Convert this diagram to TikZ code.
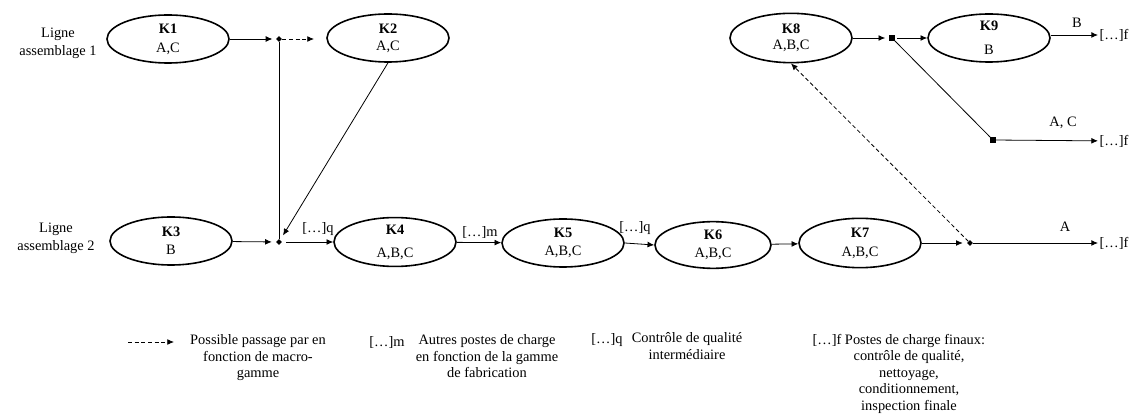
\documentclass[tikz,border=0pt]{standalone}
\usepackage{fontspec}
\setmainfont{Liberation Serif}
\usetikzlibrary{shapes.geometric,arrows.meta}
\begin{document}
\begin{tikzpicture}[x=0.75pt,y=-0.75pt,
  font=\fontsize{10.8}{12.4}\selectfont,
  kbox/.style={draw,ellipse,line width=1.2pt,minimum width=91.5pt,minimum height=36pt,inner sep=0pt,align=center},
  conn/.style={line width=0.6pt,-{Latex[length=5pt,width=4.4pt]}},
  plain/.style={line width=0.6pt},
  dashline/.style={dash pattern=on 3pt off 2pt},
  dot/.style={diamond,fill,inner sep=0pt,minimum size=4.5pt},
  sq/.style={rectangle,fill,inner sep=0pt,minimum size=3.8pt},
  lbl/.style={inner sep=1pt}]
\useasboundingbox (0,0) rectangle (1135,416);

% line labels
\node[lbl,align=center] (L1) at (58,43) {Ligne\\[1pt]assemblage 1};
\node[lbl,align=center] (L2) at (56,238) {Ligne\\[1pt]assemblage 2};

% workstations
\node[kbox] (K1) at (168,39) {\textbf{K1}\\[1.75pt]A,C};
\node[kbox] (K2) at (388,38) {\textbf{K2}\\[0.25pt]A,C};
\node[kbox] (K3) at (171,241) {\textbf{K3}\\[1pt]B};
\node[kbox] (K4) at (395,242) {\textbf{K4}\\[4.75pt]A,B,C};
\node[kbox] (K5) at (563,243) {\textbf{K5}\\[1pt]A,B,C};
\node[kbox,minimum width=87pt,minimum height=35pt] (K6) at (713,245) {\textbf{K6}\\[1pt]A,B,C};
\node[kbox,minimum height=37pt] (K7) at (860,243) {\textbf{K7}\\[1.75pt]A,B,C};
\node[kbox,minimum height=37pt] (K8) at (791,38) {\textbf{K8}\\[-0.5pt]A,B,C};
\node[kbox] (K9) at (989,38) {\textbf{K9}\\[5.5pt]B};

% junctions
\node[dot] (j1) at (279,39) {};
\node[dot] (j2) at (279,242) {};
\node[dot] (j3) at (970,243) {};
\node[sq] (j4) at (892,38) {};
\node[sq] (j5) at (993,140) {};
\coordinate (d1) at (314,39);

% end labels
\node[lbl] (f1) at (1114,243) {[…]f};
\node[lbl] (f2) at (1114,35) {[…]f};
\node[lbl] (f3) at (1114,141) {[…]f};

% connectors
\draw[conn,shorten >=2.5pt] (K1) -- (j1);
\draw[conn,dashline] (j1) -- (d1);
\draw[plain] (j1) -- (j2);
\draw[conn,shorten >=4pt] (K2.south) -- (j2);
\draw[conn,shorten >=3pt] (K3) -- (j2);
\draw[conn,shorten <=3pt] (j2) -- (K4);
\draw[conn] (K4) -- (K5);
\draw[conn] (K5.east) -- (K6.west);
\draw[conn] (K6) -- (K7);
\draw[conn,shorten >=3pt] (K7) -- (j3);
\draw[conn] (j3) -- (f1);
\draw[conn,dashline] (j3) -- (K8.south);
\draw[conn,shorten >=3pt] (K8) -- (j4);
\draw[conn,shorten <=2pt] (j4) -- (K9);
\draw[conn] (K9.east |- f2) -- (f2);
\draw[plain] (j4) -- (j5);
\draw[conn] (j5) -- (f3);

% connector labels
\node[lbl] (q1) at (318,229) {[…]q};
\node[lbl] (m1) at (480,232) {[…]m};
\node[lbl] (q2) at (635,228) {[…]q};
\node[lbl] (lA) at (1065,227) {A};
\node[lbl] (lB) at (1077,23) {B};
\node[lbl] (lAC) at (1063,123) {A, C};

% legend
\coordinate (lg1) at (128,342);
\coordinate (lg2) at (174,342);
\draw[conn,dashline] (lg1) -- (lg2);
\node[lbl,align=center,anchor=north] (t1) at (258,333) {Possible passage par en\\fonction de macro-\\gamme};
\node[lbl] (m2) at (387,342) {[…]m};
\node[lbl,align=center,anchor=north] (t2) at (487,333) {Autres postes de charge\\en fonction de la gamme\\de fabrication};
\node[lbl] (q3) at (607,340) {[…]q};
\node[lbl,align=center,anchor=north] (t3) at (687,331) {Contrôle de qualité\\intermédiaire};
\node[lbl,anchor=west] (f4) at (811,341) {[…]f Postes de charge finaux:};
\node[lbl,align=center,anchor=north] (t4) at (909,349) {contrôle de qualité,\\nettoyage,\\conditionnement,\\inspection finale};
\end{tikzpicture}
\end{document}
